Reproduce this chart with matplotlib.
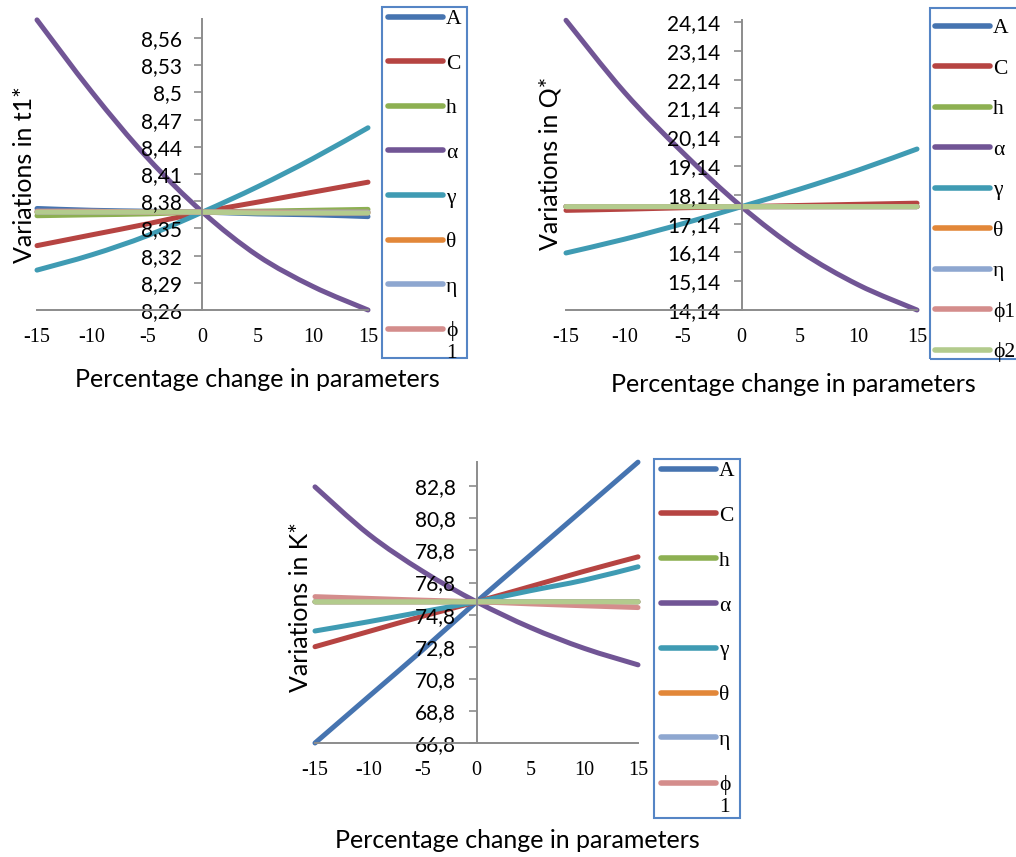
import matplotlib.pyplot as plt
from matplotlib.patches import Rectangle, PathPatch
from matplotlib.path import Path
from matplotlib.lines import Line2D

plt.rcParams['axes.unicode_minus'] = False

# percentage change of each parameter (x axis)
pct = [-15, -10, -5, 0, 5, 10, 15]
pct_labels = ['-15', '-10', '-5', '0', '5', '10', '15']

params = ['A', 'C', 'h', 'α', 'γ', 'θ', 'η', 'ϕ1', 'ϕ2']
colors = ['#4674B0', '#B64442', '#8DB052', '#715595', '#3F9BB3',
          '#E28739', '#8EA7D0', '#D48D8C', '#B3CB8D']

# t1* for A, C, h, alpha, gamma, theta, eta, phi1, phi2
t1_A = [8.372, 8.370, 8.369, 8.368, 8.366, 8.365, 8.363]
t1_C = [8.331, 8.343, 8.355, 8.368, 8.379, 8.390, 8.401]
t1_h = [8.364, 8.365, 8.366, 8.368, 8.369, 8.370, 8.371]
t1_alpha = [8.580, 8.500, 8.428, 8.368, 8.320, 8.286, 8.260]
t1_gamma = [8.304, 8.321, 8.342, 8.368, 8.396, 8.427, 8.461]
t1_theta = [8.368, 8.368, 8.368, 8.368, 8.368, 8.368, 8.368]
t1_eta = [8.368, 8.368, 8.368, 8.368, 8.368, 8.368, 8.368]
t1_phi1 = [8.369, 8.369, 8.368, 8.368, 8.368, 8.367, 8.367]
t1_phi2 = [8.368, 8.368, 8.368, 8.368, 8.367, 8.367, 8.367]

# Q*
Q_A = [17.73, 17.73, 17.73, 17.73, 17.73, 17.73, 17.73]
Q_C = [17.60, 17.64, 17.69, 17.73, 17.77, 17.81, 17.85]
Q_h = [17.73, 17.73, 17.73, 17.73, 17.73, 17.73, 17.73]
Q_alpha = [24.20, 21.70, 19.60, 17.73, 16.18, 15.01, 14.14]
Q_gamma = [16.12, 16.60, 17.14, 17.73, 18.34, 19.00, 19.73]
Q_theta = [17.73, 17.73, 17.73, 17.73, 17.73, 17.73, 17.73]
Q_eta = [17.73, 17.73, 17.73, 17.73, 17.73, 17.73, 17.73]
Q_phi1 = [17.73, 17.73, 17.73, 17.73, 17.73, 17.73, 17.73]
Q_phi2 = [17.73, 17.73, 17.73, 17.73, 17.73, 17.73, 17.73]

# K*
K_A = [66.8, 69.7, 72.6, 75.6, 78.5, 81.4, 84.3]
K_C = [72.8, 73.75, 74.7, 75.6, 76.55, 77.5, 78.4]
K_h = [75.6, 75.6, 75.6, 75.6, 75.6, 75.6, 75.6]
K_alpha = [82.76, 79.8, 77.5, 75.6, 74.0, 72.7, 71.67]
K_gamma = [73.78, 74.36, 74.98, 75.6, 76.29, 76.95, 77.78]
K_theta = [75.6, 75.6, 75.6, 75.6, 75.6, 75.6, 75.6]
K_eta = [75.6, 75.6, 75.6, 75.6, 75.6, 75.6, 75.6]
K_phi1 = [75.92, 75.81, 75.7, 75.6, 75.47, 75.35, 75.24]
K_phi2 = [75.6, 75.6, 75.6, 75.6, 75.6, 75.6, 75.6]

t1_ticks = [8.26, 8.29, 8.32, 8.35, 8.38, 8.41, 8.44, 8.47, 8.5, 8.53, 8.56]
Q_ticks = [14.14, 15.14, 16.14, 17.14, 18.14, 19.14, 20.14, 21.14, 22.14, 23.14, 24.14]
K_ticks = [66.8, 68.8, 70.8, 72.8, 74.8, 76.8, 78.8, 80.8, 82.8]

W, H = 1016, 857
fig = plt.figure(figsize=(W / 100, H / 100), dpi=100)

sans = 'Lato'
serif = ['Liberation Serif', 'DejaVu Serif']


def px_rect(x0, y0, x1, y1):
    return [x0 / W, 1 - y1 / H, (x1 - x0) / W, (y1 - y0) / H]


def smooth(x, y):
    # Excel-like smoothed line: cubic Bezier segments through the points
    n = len(x)
    verts = [(x[0], y[0])]
    codes = [Path.MOVETO]
    for i in range(n - 1):
        a = max(i - 1, 0)
        b = min(i + 2, n - 1)
        c1 = (x[i] + (x[i + 1] - x[a]) / 6, y[i] + (y[i + 1] - y[a]) / 6)
        c2 = (x[i + 1] - (x[b] - x[i]) / 6, y[i + 1] - (y[b] - y[i]) / 6)
        verts += [c1, c2, (x[i + 1], y[i + 1])]
        codes += [Path.CURVE4] * 3
    return Path(verts, codes)


def panel(rect, series, ylim, yticks, legend_labels, legend_xy, spacing, box):
    ax = fig.add_axes(px_rect(*rect))
    for vals, c in zip(series, colors):
        ax.add_patch(PathPatch(smooth(pct, vals), fill=False, edgecolor=c,
                               lw=3.6, capstyle='round', joinstyle='round',
                               clip_on=False))
    ax.set_xlim(-15, 15)
    ax.set_ylim(*ylim)
    for s in ['top', 'right']:
        ax.spines[s].set_visible(False)
    ax.spines['left'].set_position(('data', 0))
    for s in ['left', 'bottom']:
        ax.spines[s].set_color('#8c8c8c')
        ax.spines[s].set_linewidth(1.4)
    ax.set_xticks(pct)
    ax.set_xticklabels(pct_labels, fontfamily=serif, fontsize=14.5)
    ax.set_yticks(yticks)
    ax.set_yticklabels([('%g' % v).replace('.', ',') for v in yticks],
                       fontfamily=sans, fontsize=15)
    ax.tick_params(axis='x', length=0, pad=13)
    ax.tick_params(axis='y', length=6, width=1.2, color='#8c8c8c', pad=9)
    ax.patch.set_alpha(0)

    handles = [Line2D([], [], color=c, lw=4, solid_capstyle='round')
               for c in colors[:len(legend_labels)]]
    leg = fig.legend(handles, legend_labels, loc='upper left',
                     bbox_to_anchor=(legend_xy[0] / W, 1 - legend_xy[1] / H),
                     frameon=False, borderpad=0, borderaxespad=0,
                     handlelength=2.55, handletextpad=0.15,
                     labelspacing=spacing,
                     prop={'family': serif, 'size': 15.5})
    # two-line label: keep the line level with its first text line
    for lab, h in zip(legend_labels, leg.legend_handles):
        if '\n' in lab:
            h.set_ydata([v + 9 for v in h.get_ydata()])
    x0, y0, x1, y1 = box
    fig.patches.append(Rectangle((x0 / W, 1 - y1 / H), (x1 - x0) / W,
                                 (y1 - y0) / H, transform=fig.transFigure,
                                 fill=False, edgecolor='#5585C5', lw=1.5))
    return ax


panel((37, 19, 368, 310),
      [t1_A, t1_C, t1_h, t1_alpha, t1_gamma, t1_theta, t1_eta, t1_phi1, t1_phi2],
      (8.26, 8.581), t1_ticks,
      ['A', 'C', 'h', 'α', 'γ', 'θ', 'η', 'ϕ\n1'], (388, 9), 1.14,
      (382, 7, 467, 358))

panel((566, 20, 917, 310),
      [Q_A, Q_C, Q_h, Q_alpha, Q_gamma, Q_theta, Q_eta, Q_phi1, Q_phi2],
      (14.14, 24.21), Q_ticks,
      ['A', 'C', 'h', 'α', 'γ', 'θ', 'η', 'ϕ1', 'ϕ2'], (935, 18), 0.95,
      (930, 8, 1022, 359))

panel((315, 462, 638, 743),
      [K_A, K_C, K_h, K_alpha, K_gamma, K_theta, K_eta, K_phi1, K_phi2],
      (66.8, 84.31), K_ticks,
      ['A', 'C', 'h', 'α', 'γ', 'θ', 'η', 'ϕ\n1'], (661, 461), 1.15,
      (654, 459, 740, 818))

lab = dict(fontfamily=sans, fontsize=18)
fig.text(25 / W, 1 - 175 / H, 'Variations in t1*', rotation=90,
         ha='center', va='center', **lab)
fig.text(550 / W, 1 - 163 / H, 'Variations in Q*', rotation=90,
         ha='center', va='center', **lab)
fig.text(300 / W, 1 - 607 / H, 'Variations in K*', rotation=90,
         ha='center', va='center', **lab)
fig.text(257 / W, 1 - 380 / H, 'Percentage change in parameters',
         ha='center', va='center', **lab)
fig.text(793 / W, 1 - 385 / H, 'Percentage change in parameters',
         ha='center', va='center', **lab)
fig.text(517 / W, 1 - 840 / H, 'Percentage change in parameters',
         ha='center', va='center', **lab)

fig.savefig('out.png', dpi=100)
